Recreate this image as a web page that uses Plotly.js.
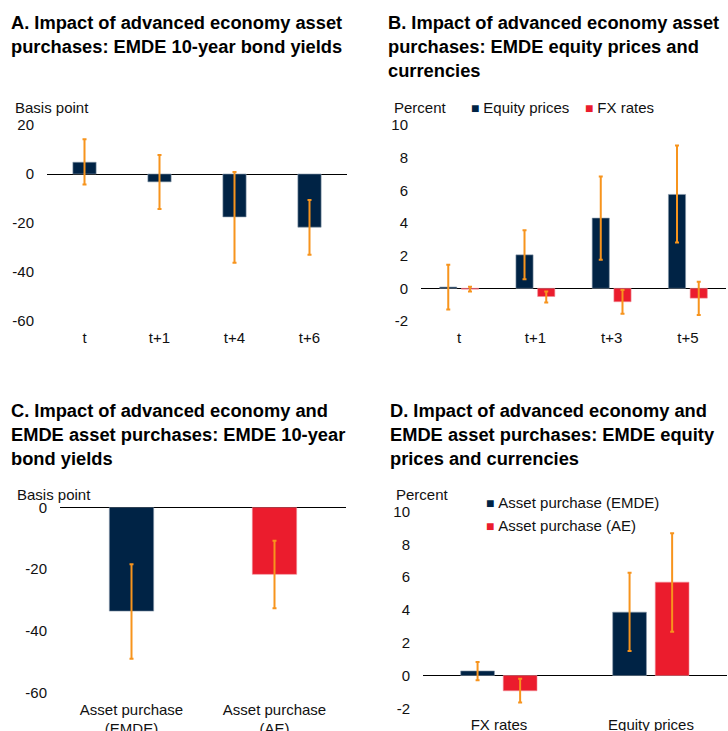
<!DOCTYPE html>
<html>
<head>
<meta charset="utf-8">
<script src="https://cdn.plot.ly/plotly-3.0.1.min.js"></script>
<style>html,body{margin:0;padding:0;background:#fff;}#chart{width:728px;height:731px;}</style>
</head>
<body>
<div id="chart"></div>
<script>
// ---- Panel A data ----
const catsA = ['t', 't+1', 't+4', 't+6'];
const valA = [4.8, -3.2, -17.5, -21.7];
const hiA = [14.2, 7.8, 0.8, -10.6];
const loA = [-4.3, -14.3, -36.2, -33.0];
const ticksA = [-60, -40, -20, 0, 20];
const tickTextA = ['-60', '-40', '-20', '0', '20'];

// ---- Panel B data ----
const catsB = ['t', 't+1', 't+3', 't+5'];
const eqB = [0.08, 2.05, 4.3, 5.75];
const eqHiB = [1.45, 3.55, 6.85, 8.75];
const eqLoB = [-1.3, 0.55, 1.75, 2.8];
const fxB = [-0.05, -0.5, -0.82, -0.6];
const fxHiB = [0.1, -0.2, -0.1, 0.4];
const fxLoB = [-0.2, -0.86, -1.55, -1.63];
const ticksB = [-2, 0, 2, 4, 6, 8, 10];
const tickTextB = ['-2', '0', '2', '4', '6', '8', '10'];

// ---- Panel C data ----
const catsC = ['Asset purchase<br>(EMDE)', 'Asset purchase<br>(AE)'];
const valC = [-33.6, -21.7];
const hiC = [-18.4, -10.8];
const loC = [-49.0, -32.7];
const ticksC = [-60, -40, -20, 0];
const tickTextC = ['-60', '-40', '-20', '0'];

// ---- Panel D data ----
const catsD = ['FX rates', 'Equity prices'];
const emdeD = [0.28, 3.87];
const emdeHiD = [0.82, 6.27];
const emdeLoD = [-0.29, 1.5];
const aeD = [-0.93, 5.7];
const aeHiD = [-0.2, 8.68];
const aeLoD = [-1.65, 2.67];
const ticksD = [-2, 0, 2, 4, 6, 8, 10];
const tickTextD = ['-2', '0', '2', '4', '6', '8', '10'];

// ---- styling ----
const NAVY = '#002345';
const RED = '#EB1C2D';
const ORANGE = '#F7941D';
const FONT = 'Liberation Sans, Arial, sans-serif';

function err(v, hi, lo) {
  return {
    type: 'data', symmetric: false,
    array: v.map((d, i) => hi[i] - d),
    arrayminus: v.map((d, i) => d - lo[i]),
    color: ORANGE, thickness: 2, width: 2
  };
}

const W = 728, H = 731;
const px = x => x / W;
const py = y => 1 - y / H;

const traces = [
  {type: 'bar', x: catsA, y: valA, xaxis: 'x', yaxis: 'y', width: 0.31,
   marker: {color: NAVY, line: {color: '#8899aa', width: 0.6}}, error_y: err(valA, hiA, loA), showlegend: false},
  {type: 'bar', x: catsB, y: eqB, xaxis: 'x2', yaxis: 'y2', width: 0.225, offset: -0.255,
   marker: {color: NAVY, line: {color: '#8899aa', width: 0.6}}, error_y: err(eqB, eqHiB, eqLoB), showlegend: false},
  {type: 'bar', x: catsB, y: fxB, xaxis: 'x2', yaxis: 'y2', width: 0.225, offset: 0.03,
   marker: {color: RED, line: {color: '#f08a93', width: 0.6}}, error_y: err(fxB, fxHiB, fxLoB), showlegend: false},
  {type: 'bar', x: catsC, y: valC, xaxis: 'x3', yaxis: 'y3', width: 0.31,
   marker: {color: [NAVY, RED], line: {color: ['#8899aa', '#f08a93'], width: 0.6}}, error_y: err(valC, hiC, loC), showlegend: false},
  {type: 'bar', x: catsD, y: emdeD, xaxis: 'x4', yaxis: 'y4', width: 0.222, offset: -0.252,
   marker: {color: NAVY, line: {color: '#8899aa', width: 0.6}}, error_y: err(emdeD, emdeHiD, emdeLoD), showlegend: false},
  {type: 'bar', x: catsD, y: aeD, xaxis: 'x4', yaxis: 'y4', width: 0.222, offset: 0.028,
   marker: {color: RED, line: {color: '#f08a93', width: 0.6}}, error_y: err(aeD, aeHiD, aeLoD), showlegend: false}
];

const tickFont = {family: FONT, size: 15, color: '#111'};
function xax(d, anchor) {
  return {domain: d, anchor: anchor, showgrid: false, showline: false, zeroline: false,
          ticks: '', tickfont: tickFont, fixedrange: true, ticklabelstandoff: 6};
}
function yax(d, anchor, range, tv, tt) {
  return {domain: d, anchor: anchor, range: range, tickmode: 'array', tickvals: tv, ticktext: tt,
          showgrid: false, showline: false,
          zeroline: true, zerolinecolor: '#000', zerolinewidth: 1, ticks: '', tickfont: tickFont,
          ticklabelstandoff: 12, fixedrange: true};
}

const titleFont = {family: FONT, size: 18.3, color: '#000'};
function title(text, x, y) {
  return {text: '<b>' + text + '</b>', xref: 'paper', yref: 'paper', x: px(x), y: py(y),
          xanchor: 'left', yanchor: 'top', align: 'left', showarrow: false, font: titleFont};
}
const lblFont = {family: FONT, size: 15, color: '#111'};
function lbl(text, x, y) {
  return {text: text, xref: 'paper', yref: 'paper', x: px(x), y: py(y),
          xanchor: 'left', yanchor: 'middle', align: 'left', showarrow: false, font: lblFont};
}
function sq(c) { return "<span style='color:" + c + ";font-size:14px'>■ </span>"; }

const layout = {
  width: W, height: H,
  margin: {l: 0, r: 0, t: 0, b: 0},
  paper_bgcolor: '#fff', plot_bgcolor: '#fff',
  font: {family: FONT, size: 15, color: '#111'},
  showlegend: false,
  xaxis: xax([px(47), px(347)], 'y'),
  yaxis: yax([py(321), py(125)], 'x', [-60, 20], ticksA, tickTextA),
  xaxis2: xax([px(421), px(726)], 'y2'),
  yaxis2: yax([py(321), py(125)], 'x2', [-2, 10], ticksB, tickTextB),
  xaxis3: xax([px(60), px(346)], 'y3'),
  yaxis3: yax([py(692.7), py(507.3)], 'x3', [-60, 0], ticksC, tickTextC),
  xaxis4: xax([px(423), px(727)], 'y4'),
  yaxis4: yax([py(708.3), py(511.7)], 'x4', [-2, 10], ticksD, tickTextD),
  annotations: [
    title('A. Impact of advanced economy asset<br>purchases: EMDE 10-year bond yields', 9, 10),
    title('B. Impact of advanced economy asset<br>purchases: EMDE equity prices and<br>currencies', 386, 10),
    title('C. Impact of advanced economy and<br>EMDE asset purchases: EMDE 10-year<br>bond yields', 9, 398),
    title('D. Impact of advanced economy and<br>EMDE asset purchases: EMDE equity<br>prices and currencies', 388, 398),
    lbl('Basis point', 13, 107),
    lbl('Percent', 392, 107),
    lbl('Basis point', 15, 495),
    lbl('Percent', 394, 495),
    lbl(sq(NAVY) + 'Equity prices', 469, 107),
    lbl(sq(RED) + 'FX rates', 583, 107),
    lbl(sq(NAVY) + 'Asset purchase (EMDE)', 484, 503),
    lbl(sq(RED) + 'Asset purchase (AE)', 484, 525)
  ]
};

Plotly.newPlot('chart', traces, layout, {displayModeBar: false, staticPlot: true});
</script>
</body>
</html>
